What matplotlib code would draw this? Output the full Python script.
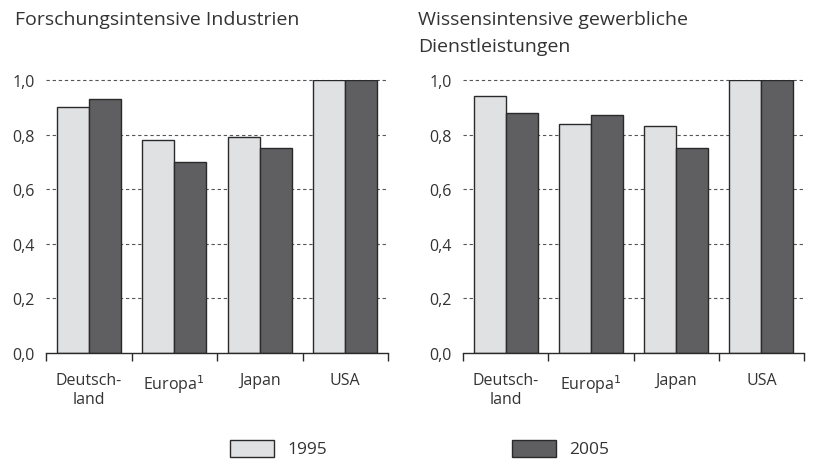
import matplotlib
matplotlib.use("Agg")
import matplotlib.pyplot as plt
import numpy as np
from matplotlib.patches import Rectangle

plt.rcParams['font.family'] = ['Open Sans', 'DejaVu Sans']

categories = ["Deutsch-\nland", "Europa$^{1}$", "Japan", "USA"]
left_1995 = [0.90, 0.78, 0.79, 1.00]
left_2005 = [0.93, 0.70, 0.75, 1.00]
right_1995 = [0.94, 0.84, 0.83, 1.00]
right_2005 = [0.88, 0.87, 0.75, 1.00]
yticks = [0.0, 0.2, 0.4, 0.6, 0.8, 1.0]
ytick_labels = ["0,0", "0,2", "0,4", "0,6", "0,8", "1,0"]
titles = ["Forschungsintensive Industrien", "Wissensintensive gewerbliche\nDienstleistungen"]
series_labels = ["1995", "2005"]

c_light = "#e0e1e3"
c_dark = "#5f5f61"
c_edge = "#2a2a2a"
c_text = "#333333"

W, H = 814, 464
fig = plt.figure(figsize=(W/100, H/100), dpi=100)

def ax_rect(x0, x1, y_top, y_bot):
    return [x0/W, 1 - y_bot/H, (x1-x0)/W, (y_bot-y_top)/H]

y_bot = 354
y_top = 81

axes = [fig.add_axes(ax_rect(46, 388, y_top, y_bot)),
        fig.add_axes(ax_rect(463, 804, y_top, y_bot))]

data = [(left_1995, left_2005), (right_1995, right_2005)]
x = np.arange(len(categories))
bw = 0.375
for ax, (a, b) in zip(axes, data):
    ax.set_xlim(-0.5, len(categories)-0.5)
    ax.set_ylim(0, 1.0)
    for yv in yticks[1:]:
        ax.axhline(yv, color="#555555", lw=0.8, ls=(0, (3, 2.5)), zorder=0, clip_on=False)
    ax.bar(x - bw/2, a, bw, color=c_light, edgecolor=c_edge, lw=1.0, zorder=2)
    ax.bar(x + bw/2, b, bw, color=c_dark, edgecolor=c_edge, lw=1.0, zorder=2)
    for s in ["top", "right", "left"]:
        ax.spines[s].set_visible(False)
    ax.spines["bottom"].set_color(c_edge)
    ax.spines["bottom"].set_linewidth(1.0)
    ax.set_yticks(yticks)
    ax.set_yticklabels(ytick_labels, fontsize=11.5, color=c_text)
    ax.tick_params(axis="y", length=0, pad=8)
    ax.set_xticks(np.arange(-0.5, len(categories), 1.0))
    ax.set_xticklabels([])
    ax.tick_params(axis="x", direction="out", length=6, width=1.0, color=c_edge)
    for i, lab in enumerate(categories):
        ax.text(i, -0.07, lab, ha="center", va="top", fontsize=11.5, color=c_text,
                linespacing=1.25, transform=ax.transData, clip_on=False)

fig.text(15/W, 1 - 20/H, titles[0], fontsize=14, color=c_text, va="center", ha="left")
fig.text(418/W, 1 - 20/H, "Wissensintensive gewerbliche", fontsize=14, color=c_text, va="center", ha="left")
fig.text(418/W, 1 - 47/H, "Dienstleistungen", fontsize=14, color=c_text, va="center", ha="left")

# legend
for (bx, tx, col, lab) in [(230, 287, c_light, series_labels[0]), (512, 569, c_dark, series_labels[1])]:
    fig.patches.append(Rectangle((bx/W, 1 - 458/H), 44/W, 17/H, transform=fig.transFigure,
                                 facecolor=col, edgecolor=c_edge, lw=1.0))
    fig.text(tx/W, 1 - 450/H, lab, fontsize=12.5, color=c_text, va="center", ha="left")

fig.savefig("out.png", dpi=100)
